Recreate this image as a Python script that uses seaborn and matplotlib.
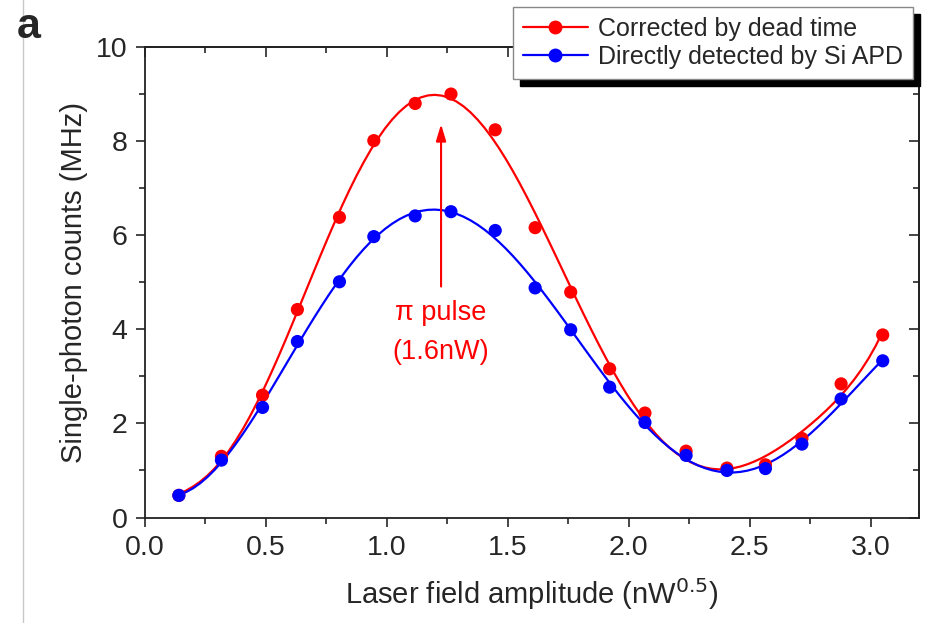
import numpy as np
import pandas as pd
import matplotlib
matplotlib.use('Agg')
import matplotlib.pyplot as plt
import seaborn as sns
from matplotlib.lines import Line2D
from matplotlib.ticker import MultipleLocator

sns.set_style('ticks')
plt.rcParams['font.family'] = ['Liberation Sans', 'DejaVu Sans']

# 读图得到的数据
amplitude = [0.14, 0.316, 0.486, 0.630, 0.804, 0.946, 1.117, 1.265, 1.448, 1.613,
             1.760, 1.921, 2.067, 2.237, 2.406, 2.565, 2.716, 2.878, 3.050]
corrected = [0.47, 1.30, 2.60, 4.42, 6.38, 8.01, 8.80, 9.00, 8.24, 6.16,
             4.79, 3.16, 2.22, 1.41, 1.05, 1.12, 1.68, 2.84, 3.88]
detected = [0.47, 1.22, 2.34, 3.74, 5.01, 5.97, 6.41, 6.50, 6.10, 4.88,
            3.99, 2.77, 2.02, 1.32, 1.00, 1.04, 1.56, 2.52, 3.33]
labels = ['Corrected by dead time', 'Directly detected by Si APD']
colors = ['#ff0000', '#0000ff']

df = pd.DataFrame({'amp': amplitude, 'corrected': corrected, 'detected': detected})

fig = plt.figure(figsize=(9.37, 6.23), dpi=100)
ax = fig.add_axes([145 / 937, 1 - 517.5 / 623, 774 / 937, 470.5 / 623])

for col, c in zip(['corrected', 'detected'], colors):
    sns.regplot(data=df, x='amp', y=col, order=7, ci=None, scatter=False,
                truncate=True, color=c, line_kws={'lw': 1.6}, ax=ax)
    sns.scatterplot(data=df, x='amp', y=col, color=c, s=90, edgecolor='none',
                    ax=ax, zorder=3)

ax.set_xlim(0, 3.2)
ax.set_ylim(0, 10)
ax.xaxis.set_major_locator(MultipleLocator(0.5))
ax.xaxis.set_minor_locator(MultipleLocator(0.25))
ax.yaxis.set_major_locator(MultipleLocator(2))
ax.yaxis.set_minor_locator(MultipleLocator(1))
ax.tick_params(which='major', direction='out', length=6.5, width=1.2, labelsize=20.5, pad=6)
ax.tick_params(which='minor', direction='out', length=4, width=1.2)
for s in ax.spines.values():
    s.set_linewidth(1.3)
    s.set_color('#222222')

# 上、右侧的内向刻度
top = ax.secondary_xaxis('top')
top.xaxis.set_major_locator(MultipleLocator(0.5))
top.xaxis.set_minor_locator(MultipleLocator(0.25))
top.tick_params(which='major', direction='in', length=7, width=1.2, labeltop=False)
top.tick_params(which='minor', direction='in', length=4, width=1.2)
right = ax.secondary_yaxis('right')
right.yaxis.set_major_locator(MultipleLocator(2))
right.yaxis.set_minor_locator(MultipleLocator(1))
right.tick_params(which='major', direction='in', length=7, width=1.2, labelright=False)
right.tick_params(which='minor', direction='in', length=4, width=1.2)
for sec in (top, right):
    for s in sec.spines.values():
        s.set_linewidth(1.3)
        s.set_color('#222222')

ax.set_xlabel('Laser field amplitude (nW$^{0.5}$)', fontsize=21, labelpad=11)
ax.set_ylabel('Single-photon counts (MHz)', fontsize=21, labelpad=6)

# π 脉冲箭头与标注
ax.annotate('', xy=(1.224, 8.42), xytext=(1.224, 4.85),
            arrowprops=dict(arrowstyle='-|>,head_length=1.0,head_width=0.3',
                            color='#ff0000', lw=1.5, mutation_scale=10))
ax.text(1.224, 4.35, 'π pulse', color='#ff0000', fontsize=19.5, ha='center', va='center')
ax.text(1.224, 3.52, '(1.6nW)', color='#ff0000', fontsize=19.5, ha='center', va='center')

handles = [Line2D([], [], color=c, marker='o', markersize=9, lw=1.6) for c in colors]
leg = ax.legend(handles, labels, loc='upper right', bbox_to_anchor=(0.992, 1.085),
                borderaxespad=0, fontsize=18, frameon=True, fancybox=False,
                framealpha=1, edgecolor='#888888', handlelength=2.6,
                handletextpad=0.4, borderpad=0.4, labelspacing=0.15,
                shadow={'ox': 5, 'oy': -5, 'facecolor': 'black',
                        'edgecolor': 'black', 'alpha': 1})
leg.get_frame().set_linewidth(1.0)
leg.set_zorder(10)

fig.text(17 / 937, 1 - 38 / 623, 'a', fontsize=31, fontweight='bold', va='baseline')
fig.add_artist(Line2D([23 / 937, 23 / 937], [0, 1], transform=fig.transFigure,
                      color='#c8c8c8', lw=1))

fig.savefig('out.png', dpi=100)
